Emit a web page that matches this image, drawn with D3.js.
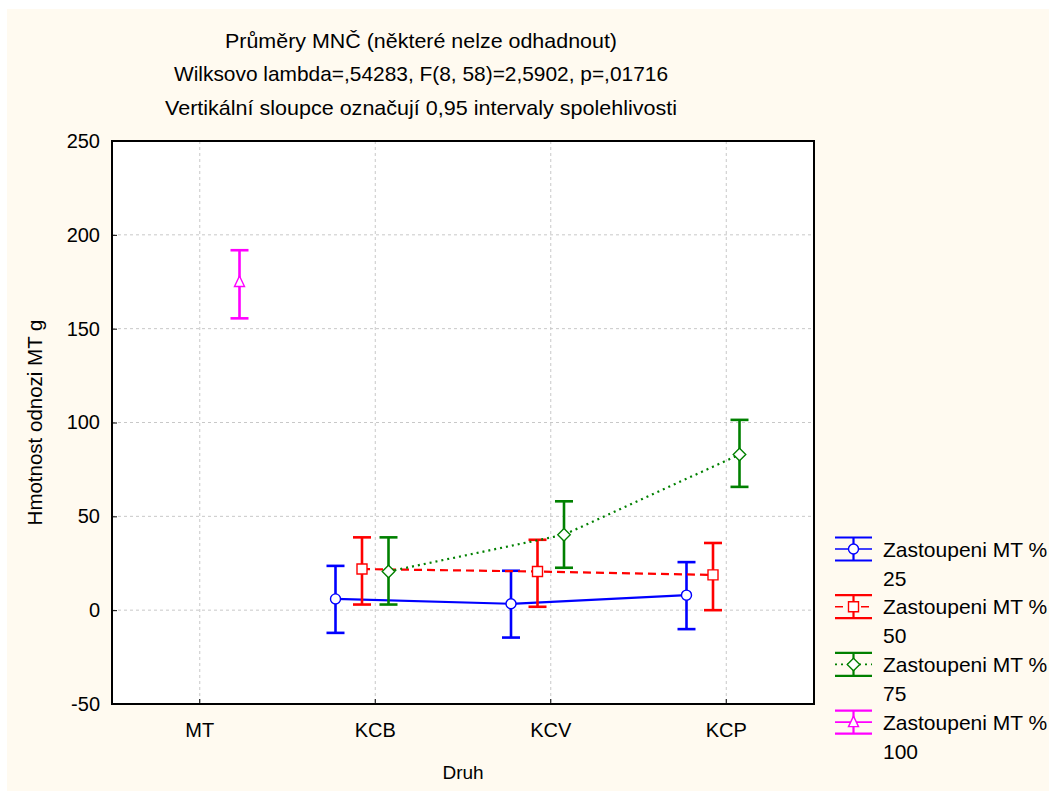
<!DOCTYPE html>
<html>
<head>
<meta charset="utf-8">
<script src="https://cdn.jsdelivr.net/npm/d3@7"></script>
<style>
  html, body { margin: 0; padding: 0; background: #ffffff; }
  svg { display: block; }
  text { font-family: "Liberation Sans", Arial, sans-serif; fill: #000; }
  .title { font-family: "Liberation Sans Narrow", "Arial Narrow", "Liberation Sans", Arial, sans-serif; }
</style>
</head>
<body>
<svg id="chart" width="1049" height="791"></svg>
<script>
// Categories on the x axis
const categories = ["MT", "KCB", "KCV", "KCP"];

// Series keys (share of MT, %)
const seriesKeys = ["25", "50", "75", "100"];

// Means and 0.95 confidence limits per category (null = not estimable)
const mean25 = [null, 6.0, 3.4, 8.0];
const low25  = [null, -12.1, -14.6, -10.1];
const high25 = [null, 23.6, 21.0, 25.6];

const mean50 = [null, 21.9, 20.6, 18.8];
const low50  = [null, 3.0, 1.8, 0.0];
const high50 = [null, 38.8, 37.5, 35.8];

const mean75 = [null, 20.6, 40.2, 82.9];
const low75  = [null, 3.0, 22.6, 65.7];
const high75 = [null, 38.8, 58.0, 101.4];

const mean100 = [174.9, null, null, null];
const low100  = [155.5, null, null, null];
const high100 = [191.8, null, null, null];

// Y axis ticks
const yTicks = [-50, 0, 50, 100, 150, 200, 250];

const titleLines = [
  "Průměry MNČ (některé nelze odhadnout)",
  "Wilksovo lambda=,54283, F(8, 58)=2,5902, p=,01716",
  "Vertikální sloupce označují 0,95 intervaly spolehlivosti"
];
const titleWidths = [392, 494, 512];
const xTitle = "Druh";
const yTitle = "Hmotnost odnozi MT g";
const legendLabel = "Zastoupeni MT %";

// ---- styling per series ----
const style = {
  "25":  { color: "#0000ff", dash: null,  shape: "circle" },
  "50":  { color: "#ff0000", dash: "8,5", shape: "square" },
  "75":  { color: "#008000", dash: "2,4", shape: "diamond" },
  "100": { color: "#ff00ff", dash: null,  shape: "triangle" }
};

const series = [
  { key: "25",  mean: mean25,  low: low25,  high: high25 },
  { key: "50",  mean: mean50,  low: low50,  high: high50 },
  { key: "75",  mean: mean75,  low: low75,  high: high75 },
  { key: "100", mean: mean100, low: low100, high: high100 }
];

const svg = d3.select("#chart");
const W = 1049, H = 791;
const plot = { left: 112, right: 814, top: 141, bottom: 704 };

// Outer panel
svg.append("rect").attr("x", 7).attr("y", 9)
  .attr("width", W - 7).attr("height", H - 9)
  .attr("fill", "#fffaf0");

// Plot area
svg.append("rect")
  .attr("x", plot.left).attr("y", plot.top)
  .attr("width", plot.right - plot.left).attr("height", plot.bottom - plot.top)
  .attr("fill", "#ffffff");

const x = d3.scaleBand().domain(categories).range([plot.left, plot.right]).padding(0);
const offset = d3.scalePoint().domain(seriesKeys).range([-39.75, 39.75]);
const y = d3.scaleLinear().domain([-50, 250]).range([plot.bottom, plot.top]);
const cx = c => x(c) + x.bandwidth() / 2;

// Grid lines
const grid = svg.append("g").attr("class", "grid");
grid.selectAll("line.h").data(yTicks.filter(t => t > -50 && t < 250)).join("line")
  .attr("x1", plot.left).attr("x2", plot.right)
  .attr("y1", d => y(d)).attr("y2", d => y(d))
  .attr("stroke", "#c8c8c8").attr("stroke-width", 1).attr("stroke-dasharray", "3,3");
grid.selectAll("line.v").data(categories).join("line")
  .attr("x1", d => cx(d)).attr("x2", d => cx(d))
  .attr("y1", plot.top).attr("y2", plot.bottom)
  .attr("stroke", "#c8c8c8").attr("stroke-width", 1).attr("stroke-dasharray", "3,3");

// Axes
const yAxis = d3.axisLeft(y).tickValues(yTicks).tickSize(-5).tickPadding(12).tickFormat(d => String(d));
const gy = svg.append("g").attr("transform", `translate(${plot.left},0)`).call(yAxis);
gy.select(".domain").remove();
gy.selectAll(".tick line").attr("stroke", "#000").attr("stroke-width", 1);
gy.selectAll("text").style("font-size", "20px").attr("fill", "#000");

const xAxis = d3.axisBottom(x).tickSize(-5).tickPadding(19);
const gx = svg.append("g").attr("transform", `translate(0,${plot.bottom})`).call(xAxis);
gx.select(".domain").remove();
gx.selectAll(".tick line").attr("stroke", "#000").attr("stroke-width", 1);
gx.selectAll("text").style("font-size", "20px").attr("fill", "#000");

// Frame
svg.append("rect")
  .attr("x", plot.left).attr("y", plot.top)
  .attr("width", plot.right - plot.left).attr("height", plot.bottom - plot.top)
  .attr("fill", "none").attr("stroke", "#000").attr("stroke-width", 2);

// Marker path generator
function markerPath(shape, r) {
  switch (shape) {
    case "circle": return d3.symbol(d3.symbolCircle, Math.PI * r * r)();
    case "square": return `M${-r},${-r}H${r}V${r}H${-r}Z`;
    case "diamond": return `M0,${-r * 1.25}L${r * 1.25},0L0,${r * 1.25}L${-r * 1.25},0Z`;
    case "triangle": return `M0,${-r * 1.2}L${r},${r * 0.9}H${-r}Z`;
  }
}

const capHalf = 9;
const layer = svg.append("g");

series.forEach(s => {
  const st = style[s.key];
  const pts = categories.map((c, i) => ({
    c, m: s.mean[i], lo: s.low[i], hi: s.high[i],
    px: cx(c) + offset(s.key)
  })).filter(d => d.m !== null);

  const g = layer.append("g");

  // connecting line
  const line = d3.line().x(d => d.px).y(d => y(d.m));
  g.append("path").datum(pts).attr("d", line)
    .attr("fill", "none").attr("stroke", st.color).attr("stroke-width", 2.2)
    .attr("stroke-dasharray", st.dash);

  // error bars
  const eb = g.selectAll("g.eb").data(pts).join("g");
  eb.append("line").attr("x1", d => d.px).attr("x2", d => d.px)
    .attr("y1", d => y(d.lo)).attr("y2", d => y(d.hi))
    .attr("stroke", st.color).attr("stroke-width", 2.6);
  [d => d.lo, d => d.hi].forEach(f => {
    eb.append("line").attr("x1", d => d.px - capHalf).attr("x2", d => d.px + capHalf)
      .attr("y1", d => y(f(d))).attr("y2", d => y(f(d)))
      .attr("stroke", st.color).attr("stroke-width", 2.6);
  });

  // markers
  g.selectAll("path.mk").data(pts).join("path")
    .attr("transform", d => `translate(${d.px},${y(d.m)})`)
    .attr("d", markerPath(st.shape, 5))
    .attr("fill", "#fff").attr("stroke", st.color).attr("stroke-width", 1.4);
});

// Titles
const titleG = svg.append("g");
titleG.selectAll("text").data(titleLines).join("text")
  .attr("class", "title")
  .attr("x", 421).attr("y", (d, i) => 47.5 + i * 33.5)
  .attr("text-anchor", "middle")
  .attr("textLength", (d, i) => titleWidths[i])
  .attr("lengthAdjust", "spacingAndGlyphs")
  .style("font-size", "21px")
  .text(d => d);

// Axis titles
svg.append("text").attr("x", (plot.left + plot.right) / 2).attr("y", 779)
  .attr("text-anchor", "middle").style("font-size", "19px").text(xTitle);
svg.append("text")
  .attr("transform", `translate(42,${(plot.top + plot.bottom) / 2}) rotate(-90)`)
  .attr("text-anchor", "middle").style("font-size", "20.5px").text(yTitle);

// Legend
const legend = svg.append("g");
const lx0 = 835, lx1 = 872, lmid = (lx0 + lx1) / 2;
series.forEach((s, i) => {
  const st = style[s.key];
  const cy = 549 + i * 57.7;
  const g = legend.append("g");
  g.append("line").attr("x1", lx0).attr("x2", lx1).attr("y1", cy - 11.5).attr("y2", cy - 11.5)
    .attr("stroke", st.color).attr("stroke-width", 2.2);
  g.append("line").attr("x1", lx0).attr("x2", lx1).attr("y1", cy + 11.5).attr("y2", cy + 11.5)
    .attr("stroke", st.color).attr("stroke-width", 2.2);
  g.append("line").attr("x1", lmid).attr("x2", lmid).attr("y1", cy - 11.5).attr("y2", cy + 11.5)
    .attr("stroke", st.color).attr("stroke-width", 2.2);
  g.append("line").attr("x1", lx0).attr("x2", lx1).attr("y1", cy).attr("y2", cy)
    .attr("stroke", st.color).attr("stroke-width", 1.6).attr("stroke-dasharray", st.dash);
  g.append("path").attr("transform", `translate(${lmid},${cy})`)
    .attr("d", markerPath(st.shape, 5))
    .attr("fill", "#fff").attr("stroke", st.color).attr("stroke-width", 1.4);
  g.append("text").attr("x", 883).attr("y", cy + 7.5).style("font-size", "21px").text(legendLabel);
  g.append("text").attr("x", 883).attr("y", cy + 36.5).style("font-size", "21px").text(s.key);
});
</script>
</body>
</html>
